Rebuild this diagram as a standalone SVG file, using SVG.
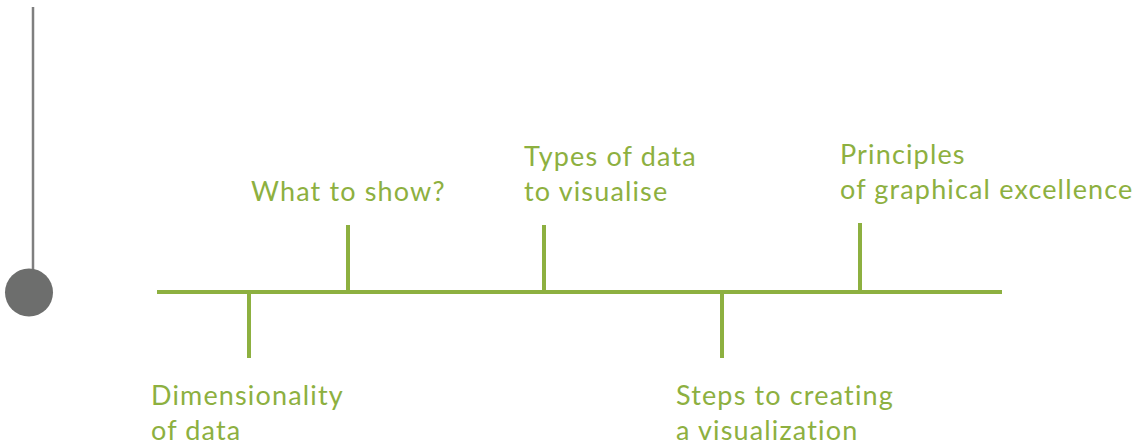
<svg xmlns="http://www.w3.org/2000/svg" width="1139" height="447" viewBox="0 0 1139 447">
<style>
.ln{stroke:#8db040;stroke-width:4;fill:none}
.t{font-family:Lato,"Open Sans",sans-serif;font-size:27px;letter-spacing:1.15px;fill:#8db040}
</style>
<rect width="1139" height="447" fill="#fff"/>
<g id="pendulum">
<line x1="33" y1="7" x2="33" y2="272" stroke="#7f7f7f" stroke-width="2.5"/>
<circle cx="29" cy="292.5" r="24" fill="#6d6e6d"/>
</g>
<g id="connectors">
<line class="ln" x1="157" y1="292" x2="1002" y2="292"/>
<line class="ln" x1="249" y1="292" x2="249" y2="358"/>
<line class="ln" x1="348" y1="225" x2="348" y2="292"/>
<line class="ln" x1="544" y1="225" x2="544" y2="292"/>
<line class="ln" x1="722" y1="292" x2="722" y2="358"/>
<line class="ln" x1="860" y1="223" x2="860" y2="292"/>
</g>
<g id="n1"><text class="t" x="151" y="405">Dimensionality</text><text class="t" x="151" y="440">of data</text></g>
<g id="n2"><text class="t" x="251" y="201">What to show?</text></g>
<g id="n3"><text class="t" x="524" y="166">Types of data</text><text class="t" x="524" y="201">to visualise</text></g>
<g id="n4"><text class="t" x="676" y="405">Steps to creating</text><text class="t" x="676" y="440">a visualization</text></g>
<g id="n5"><text class="t" x="840" y="164">Principles</text><text class="t" x="840" y="199">of graphical excellence</text></g>
</svg>
